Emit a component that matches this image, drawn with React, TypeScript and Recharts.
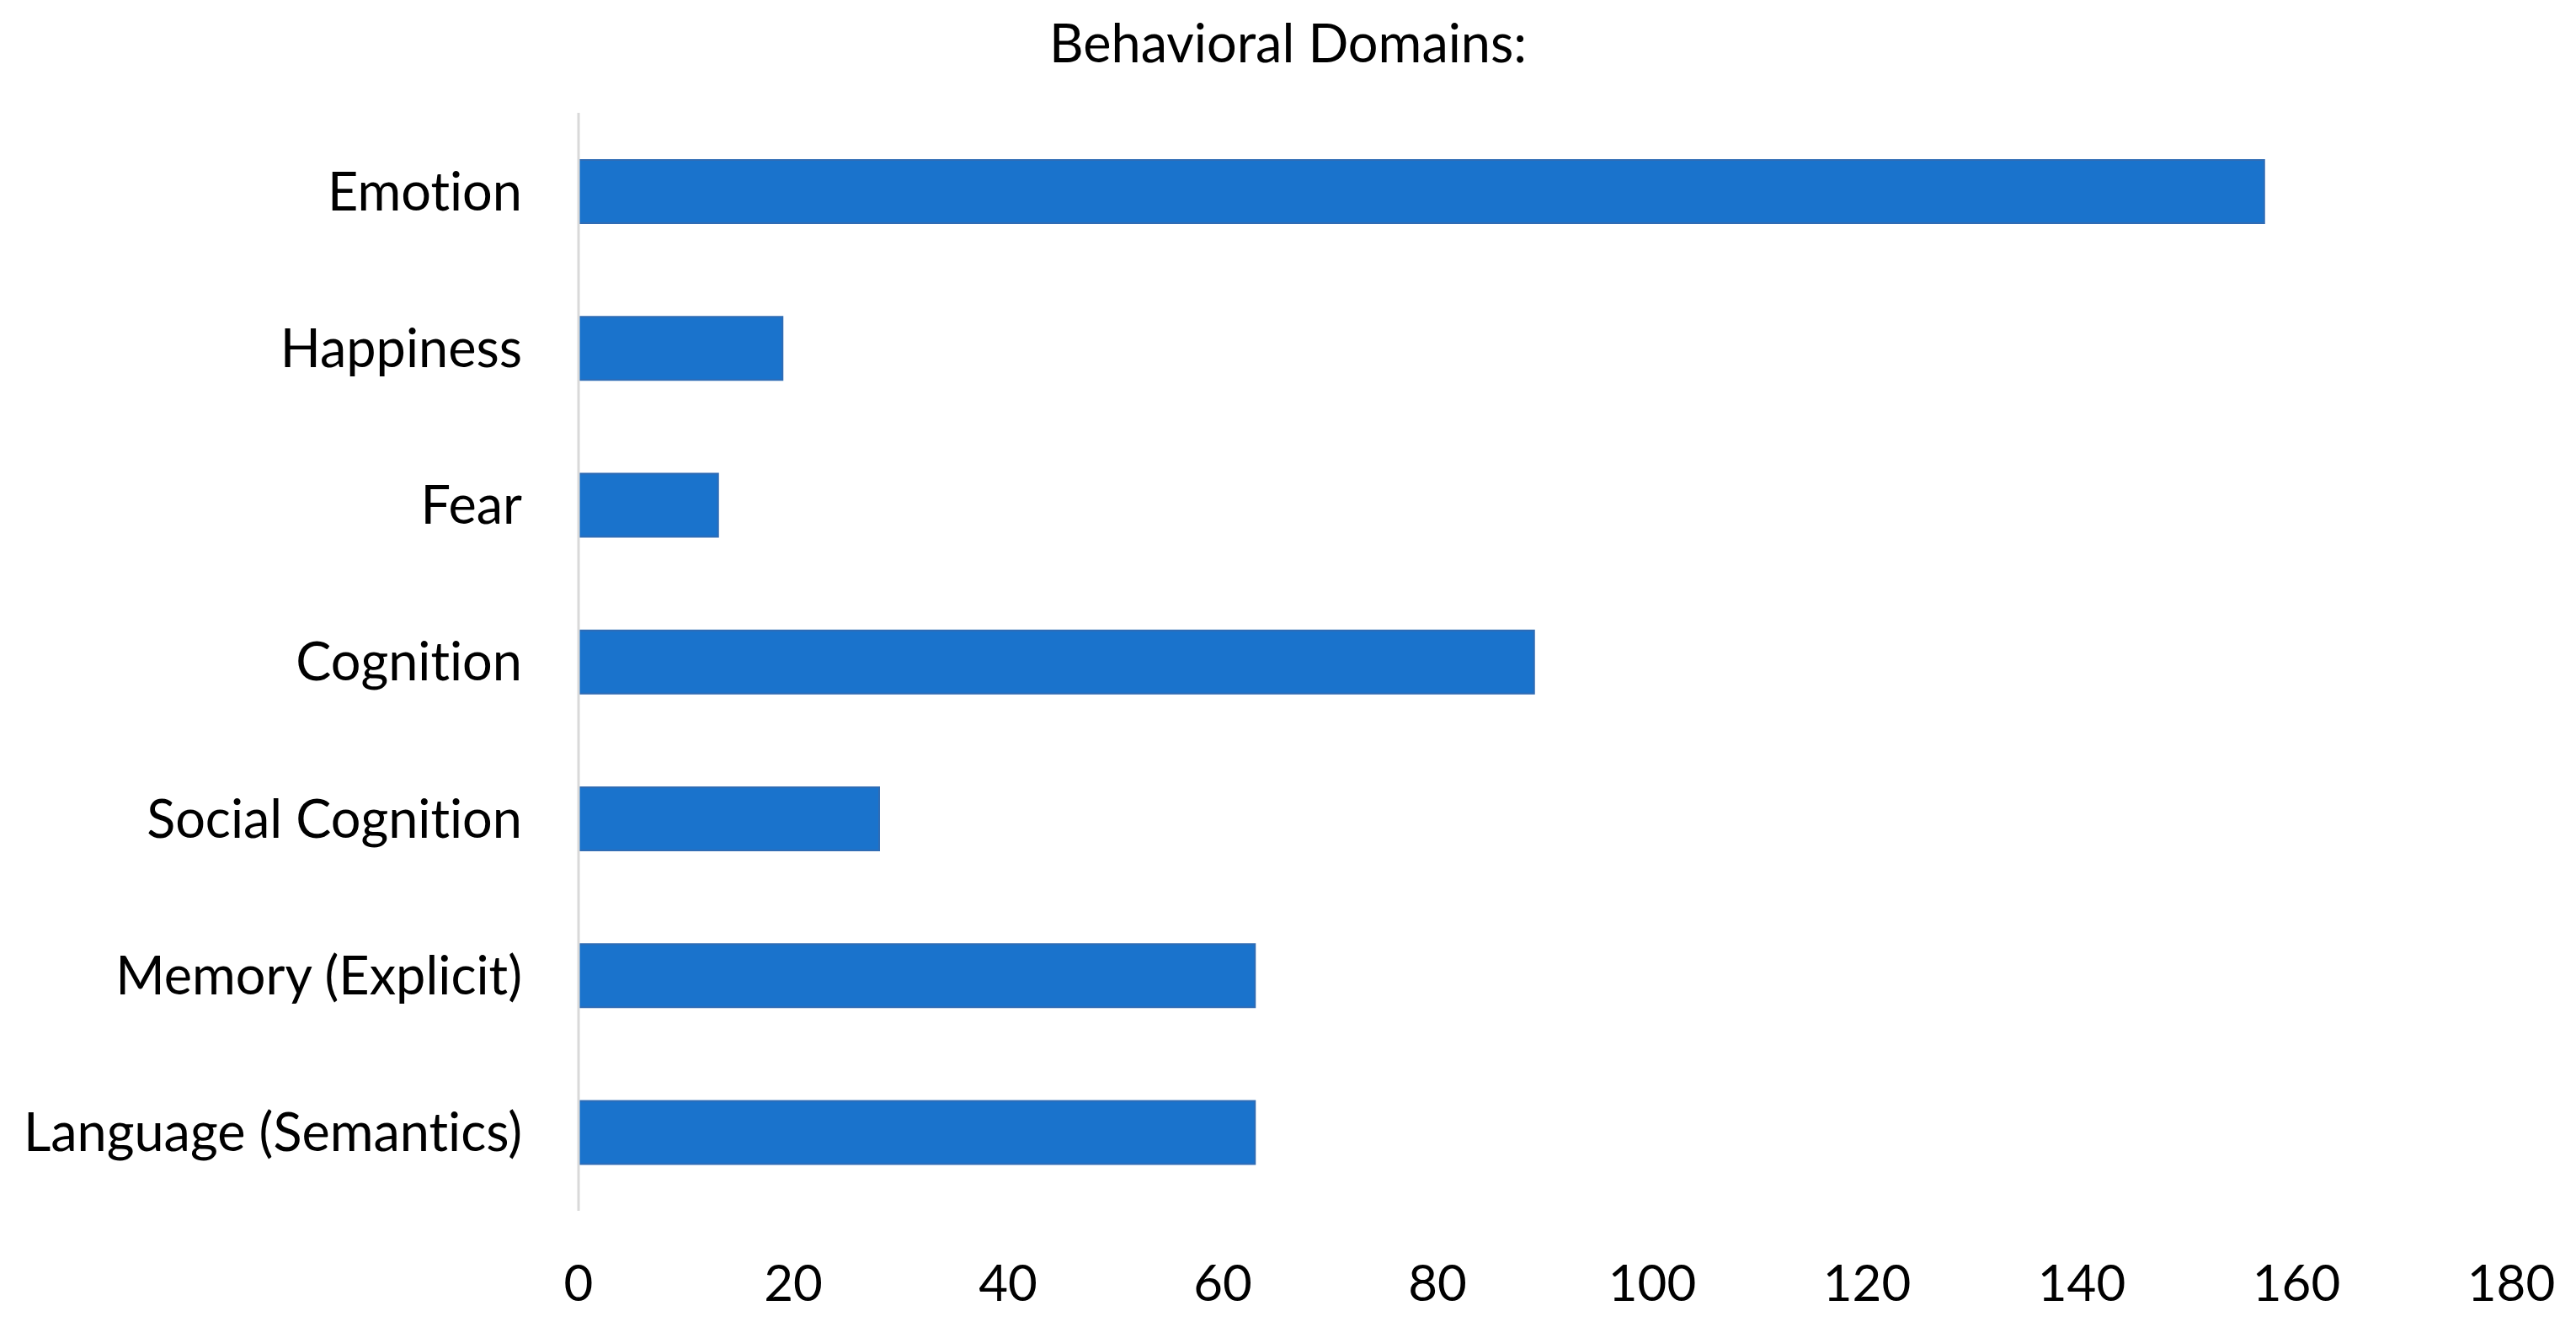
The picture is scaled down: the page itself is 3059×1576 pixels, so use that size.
import React from "react";
import { BarChart, Bar, XAxis, YAxis } from "recharts";

const categories = [
  "Emotion",
  "Happiness",
  "Fear",
  "Cognition",
  "Social Cognition",
  "Memory (Explicit)",
  "Language (Semantics)",
];
const counts = [157, 19, 13, 89, 28, 63, 63];
const xTicks = [0, 20, 40, 60, 80, 100, 120, 140, 160, 180];
const title = "Behavioral Domains:";

const data = categories.map((name, i) => ({ name, value: counts[i] }));

const FONT = "Lato, 'Open Sans', sans-serif";
const W = 3059;
const H = 1576;

export default function App() {
  return (
    <div
      style={{
        position: "absolute",
        left: 0,
        top: 0,
        width: W,
        height: H,
        background: "#fff",
        fontVariantLigatures: "none",
        fontFeatureSettings: '"liga" 0, "clig" 0',
      }}
    >
      <div
        style={{
          position: "absolute",
          left: 0,
          top: 14,
          width: W,
          textAlign: "center",
          fontFamily: FONT,
          fontSize: 63,
          lineHeight: "72px",
          color: "#000",
        }}
      >
        {title}
      </div>
      <BarChart
        width={W}
        height={H}
        data={data}
        layout="vertical"
        margin={{ top: 134, right: 77, bottom: 0, left: 0 }}
        barCategoryGap="30%"
      >
        <XAxis
          type="number"
          domain={[0, 180]}
          ticks={xTicks}
          interval={0}
          axisLine={false}
          tickLine={false}
          tickSize={0}
          tickMargin={64}
          height={138}
          tick={{ fill: "#000", fontSize: 60, fontFamily: FONT }}
        />
        <YAxis
          type="category"
          dataKey="name"
          width={687}
          axisLine={{ stroke: "#d9d9d9", strokeWidth: 3 }}
          tickLine={false}
          tickSize={0}
          tickMargin={67}
          interval={0}
          tick={{ fill: "#000", fontSize: 63, fontFamily: FONT }}
        />
        <Bar dataKey="value" fill="#1a73cc" stroke="#2f6cb5" strokeWidth={2} isAnimationActive={false} />
      </BarChart>
    </div>
  );
}
